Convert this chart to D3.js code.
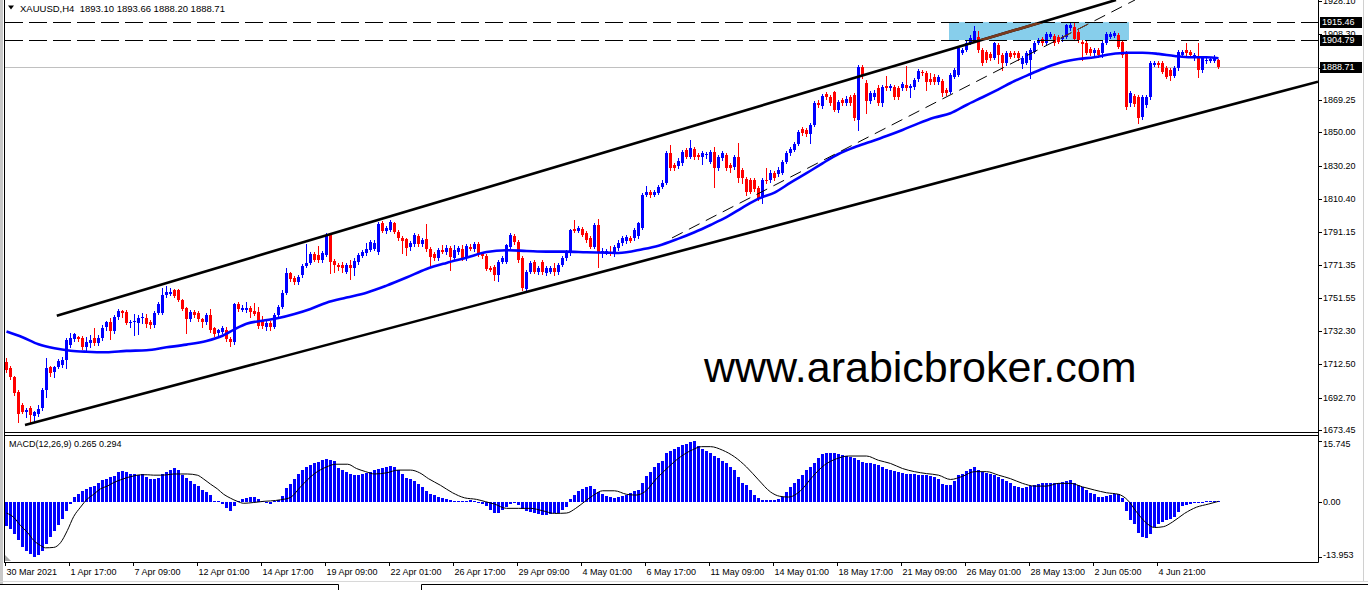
<!DOCTYPE html>
<html><head><meta charset="utf-8">
<script src="https://cdn.jsdelivr.net/npm/d3@7"></script>
<style>body{margin:0;background:#fff;}svg{display:block;}text{font-family:"Liberation Sans",Arial,sans-serif;}</style>
</head><body>
<svg id="c" width="1368" height="596"></svg>
<script>
const opens=[
1713.8,1710.3,1704.9,1696.0,1688.3,1684.2,1686.5,1681.8,1683.0,1686.5,
1697.2,1710.9,1707.9,1710.9,1712.0,1715.0,1723.9,1727.5,1728.7,1728.1,
1722.7,1725.1,1728.1,1725.1,1728.1,1734.6,1737.6,1732.2,1740.5,1744.1,
1743.5,1737.0,1737.6,1737.0,1739.9,1739.9,1737.6,1735.8,1742.9,1742.9,
1753.6,1754.2,1756.5,1756.5,1750.6,1745.9,1739.3,1743.5,1742.9,1739.3,
1737.6,1741.7,1734.0,1731.0,1731.6,1732.8,1727.5,1725.7,1748.2,1744.7,
1744.7,1745.9,1744.1,1743.5,1738.2,1734.6,1737.0,1734.6,1741.7,1746.5,
1754.8,1766.6,1763.7,1761.3,1765.4,1770.8,1772.6,1777.9,1777.3,1774.3,
1777.3,1789.2,1773.8,1771.4,1771.4,1767.2,1771.4,1769.6,1773.2,1776.7,
1778.5,1780.3,1780.9,1779.1,1796.3,1791.5,1792.1,1796.3,1790.9,1787.4,
1786.8,1782.0,1783.8,1788.6,1783.8,1786.8,1780.9,1777.9,1775.5,1780.3,
1779.1,1781.5,1775.5,1779.1,1780.9,1775.5,1782.0,1780.9,1783.8,1777.9,
1776.7,1769.6,1770.2,1765.4,1773.2,1773.2,1782.0,1788.6,1785.0,1775.5,
1757.1,1767.2,1773.2,1767.2,1773.2,1766.6,1767.2,1769.6,1767.2,1771.4,
1775.5,1778.5,1792.7,1791.5,1792.7,1790.4,1787.4,1782.0,1795.1,1778.5,
1779.3,1779.1,1777.9,1781.5,1784.4,1785.6,1787.4,1787.4,1788.6,1793.3,
1812.9,1814.7,1812.9,1814.1,1817.6,1820.0,1837.8,1830.7,1830.1,1831.9,
1839.6,1835.5,1840.2,1836.7,1835.5,1836.7,1832.5,1838.4,1828.9,1834.9,
1836.7,1830.7,1829.5,1835.5,1827.7,1822.4,1821.8,1821.8,1817.0,1811.1,
1821.8,1821.8,1826.0,1825.4,1826.0,1832.5,1837.8,1839.6,1843.2,1852.1,
1851.5,1849.1,1854.4,1867.5,1865.7,1872.8,1871.0,1874.0,1863.3,1869.3,
1867.5,1871.0,1872.2,1857.4,1888.8,1879.4,1868.7,1871.0,1876.4,1867.5,
1877.6,1876.4,1877.0,1876.4,1876.4,1878.2,1876.4,1877.0,1881.7,1885.9,
1885.3,1881.7,1882.9,1880.0,1880.5,1875.2,1874.0,1882.9,1884.1,1897.2,
1898.9,1903.1,1904.9,1906.6,1898.9,1897.7,1896.6,1894.2,1901.9,1896.0,
1891.2,1897.2,1897.2,1897.2,1890.6,1891.2,1893.0,1897.7,1903.1,1905.5,
1903.1,1906.6,1907.2,1906.6,1905.5,1906.6,1912.0,1912.6,1909.6,1903.7,
1903.1,1899.5,1897.2,1898.9,1897.2,1903.1,1906.6,1907.2,1907.8,1903.7,
1897.2,1867.5,1871.6,1871.0,1859.2,1866.3,1871.0,1890.0,1891.2,1891.2,
1888.3,1887.1,1883.5,1888.3,1896.0,1898.9,1897.7,1894.2,1894.8,1887.1,
1892.4,1892.4,1892.4,1893.10];
const highs=[
1716.2,1711.5,1705.5,1697.2,1689.5,1686.5,1687.7,1684.8,1688.3,1698.4,
1716.2,1711.5,1711.5,1715.6,1716.8,1728.1,1731.0,1731.0,1729.3,1729.3,
1728.7,1729.8,1734.0,1729.8,1735.8,1738.2,1739.9,1741.7,1745.3,1744.7,
1744.7,1738.7,1742.3,1741.7,1742.9,1742.3,1738.7,1744.1,1749.4,1757.7,
1758.9,1757.7,1757.1,1757.1,1751.2,1746.5,1744.7,1744.7,1744.1,1739.9,
1742.9,1745.3,1734.6,1733.4,1735.2,1734.6,1728.7,1748.8,1749.4,1747.6,
1749.4,1747.0,1748.8,1746.5,1741.1,1738.7,1738.2,1742.9,1747.6,1756.5,
1769.6,1767.2,1764.9,1765.4,1772.0,1783.8,1779.1,1779.1,1782.6,1779.7,
1790.4,1790.4,1774.9,1772.6,1773.2,1772.6,1774.3,1775.5,1778.5,1780.3,
1784.4,1786.2,1786.2,1796.9,1797.5,1794.5,1798.1,1796.9,1792.1,1788.6,
1787.4,1785.6,1790.4,1789.8,1787.4,1795.7,1782.0,1779.1,1781.5,1783.2,
1783.2,1782.6,1783.2,1782.6,1783.2,1783.8,1783.8,1785.0,1785.0,1779.1,
1777.9,1770.8,1771.4,1774.3,1776.7,1783.8,1790.4,1789.8,1786.2,1776.7,
1768.4,1773.8,1774.3,1770.8,1774.3,1770.8,1770.8,1772.6,1772.6,1776.7,
1780.3,1792.7,1798.1,1794.5,1793.9,1791.5,1788.6,1796.3,1798.7,1781.5,
1780.9,1782.6,1783.2,1786.2,1788.6,1789.2,1788.6,1793.3,1796.9,1814.1,
1818.2,1815.9,1815.9,1818.8,1821.8,1839.0,1842.6,1831.9,1834.9,1839.6,
1840.8,1845.5,1841.4,1837.8,1839.0,1838.4,1839.6,1841.4,1836.7,1839.0,
1837.8,1831.9,1836.7,1843.7,1828.9,1823.6,1823.0,1823.0,1818.2,1823.0,
1828.9,1827.7,1827.2,1829.5,1833.7,1839.0,1841.4,1844.4,1851.5,1853.3,
1852.7,1855.6,1868.7,1869.3,1872.8,1874.0,1872.2,1874.6,1869.3,1870.5,
1871.6,1872.2,1873.4,1890.0,1890.0,1881.1,1874.6,1875.2,1878.2,1878.2,
1883.5,1878.8,1878.2,1877.6,1880.0,1889.4,1878.8,1882.3,1887.7,1887.1,
1886.5,1885.3,1884.7,1884.1,1881.7,1876.4,1885.3,1888.3,1901.3,1900.1,
1904.3,1907.8,1913.2,1910.2,1900.1,1898.9,1897.7,1903.7,1903.1,1897.2,
1898.3,1898.3,1898.3,1898.3,1895.4,1898.3,1900.1,1904.3,1906.1,1906.6,
1909.6,1909.6,1908.4,1907.8,1907.8,1914.4,1915.0,1915.5,1910.8,1904.9,
1904.3,1900.7,1900.1,1900.1,1904.3,1909.6,1909.6,1910.2,1909.0,1904.9,
1898.3,1874.6,1872.8,1872.2,1872.2,1872.2,1892.4,1892.4,1892.4,1892.4,
1889.4,1888.3,1889.4,1898.9,1898.9,1903.1,1898.9,1897.2,1903.1,1895.4,
1894.2,1894.8,1896.0,1893.66];
const lows=[
1707.9,1703.7,1694.2,1678.2,1683.6,1681.2,1678.2,1678.2,1681.8,1685.3,
1693.1,1705.5,1704.9,1710.3,1710.9,1710.3,1722.7,1726.3,1726.3,1721.5,
1720.9,1722.7,1723.9,1723.9,1726.9,1732.8,1727.5,1731.0,1739.3,1740.5,
1736.4,1734.6,1729.8,1730.4,1737.0,1734.6,1734.0,1734.6,1742.3,1742.3,
1752.4,1753.6,1752.4,1750.0,1744.7,1731.0,1738.2,1740.5,1738.2,1734.6,
1736.4,1731.6,1729.3,1729.3,1731.0,1726.3,1723.3,1724.5,1744.1,1744.1,
1743.5,1740.5,1741.7,1734.0,1734.0,1732.8,1732.8,1734.0,1741.1,1745.9,
1754.2,1761.9,1760.1,1760.1,1764.3,1770.2,1772.0,1773.8,1773.2,1773.2,
1776.7,1766.6,1767.2,1768.4,1767.2,1766.6,1763.1,1765.4,1772.0,1776.1,
1777.3,1779.7,1780.3,1777.9,1790.9,1790.4,1791.5,1790.4,1786.2,1778.5,
1777.3,1780.3,1782.6,1782.6,1782.6,1779.7,1770.2,1774.3,1774.3,1778.5,
1777.9,1768.4,1774.3,1777.9,1774.3,1774.3,1780.3,1779.7,1776.7,1775.5,
1768.4,1767.8,1762.5,1761.9,1772.6,1772.6,1781.5,1783.8,1773.2,1756.5,
1756.0,1766.6,1766.6,1766.0,1766.0,1765.4,1766.6,1765.4,1766.0,1770.8,
1774.3,1777.3,1790.9,1790.9,1788.6,1785.0,1781.5,1781.5,1770.2,1776.1,
1777.9,1777.3,1776.7,1780.3,1783.2,1784.4,1785.0,1786.2,1787.4,1792.7,
1812.3,1811.7,1812.3,1813.5,1817.0,1819.4,1827.7,1827.7,1828.9,1830.7,
1834.9,1834.9,1834.3,1834.3,1831.3,1834.9,1831.9,1817.6,1827.7,1833.7,
1827.7,1826.6,1828.3,1820.6,1820.0,1812.9,1814.1,1815.3,1809.9,1808.2,
1820.0,1820.6,1821.8,1824.2,1825.4,1831.9,1836.7,1839.0,1842.6,1848.5,
1847.9,1843.7,1853.8,1865.1,1864.5,1869.9,1866.3,1862.7,1862.2,1866.3,
1866.3,1866.3,1857.4,1851.5,1882.3,1861.6,1867.5,1869.9,1866.3,1865.7,
1875.2,1875.2,1869.9,1869.9,1875.2,1875.2,1871.0,1875.8,1880.5,1884.1,
1875.2,1878.8,1878.8,1878.8,1871.6,1872.2,1873.4,1882.3,1883.5,1896.6,
1898.3,1902.5,1904.3,1897.7,1890.0,1891.8,1893.0,1893.6,1891.2,1887.1,
1890.0,1894.2,1894.8,1893.0,1888.3,1890.6,1882.3,1897.2,1902.5,1901.9,
1902.5,1906.1,1901.9,1903.1,1904.3,1906.1,1910.8,1904.9,1903.7,1893.0,
1896.6,1896.0,1896.0,1894.8,1894.8,1902.5,1906.1,1906.6,1900.1,1894.8,
1863.9,1865.7,1865.7,1855.6,1858.0,1865.1,1869.9,1889.4,1888.8,1885.3,
1882.3,1881.1,1882.9,1887.1,1895.4,1896.0,1895.4,1893.0,1882.9,1885.9,
1891.2,1891.8,1891.8,1888.20];
const closes=[
1709.1,1704.9,1695.4,1683.0,1684.2,1685.3,1682.4,1684.2,1685.9,1697.2,
1710.3,1707.3,1710.9,1714.4,1715.0,1726.9,1728.1,1730.4,1727.5,1722.7,
1725.7,1726.9,1725.1,1728.1,1734.0,1737.6,1732.2,1740.5,1744.1,1742.9,
1737.0,1737.6,1738.2,1739.9,1740.5,1736.4,1735.8,1742.9,1748.2,1753.6,
1755.4,1755.4,1753.0,1750.6,1745.3,1739.3,1743.5,1741.7,1739.3,1737.6,
1741.7,1732.8,1730.4,1732.8,1734.0,1727.5,1725.7,1748.2,1745.3,1745.9,
1745.9,1743.5,1742.3,1735.2,1735.2,1737.0,1734.6,1741.7,1746.5,1754.8,
1766.6,1763.1,1761.3,1764.3,1770.8,1772.6,1777.9,1774.3,1774.3,1778.5,
1789.2,1773.2,1771.4,1770.2,1769.6,1771.4,1769.6,1773.8,1777.3,1779.1,
1780.9,1785.0,1784.4,1795.7,1791.5,1793.3,1796.9,1790.9,1787.4,1785.6,
1781.5,1784.4,1789.2,1783.8,1786.2,1780.9,1776.1,1775.5,1780.3,1779.1,
1781.5,1776.1,1780.3,1781.5,1775.5,1782.6,1780.9,1783.8,1777.9,1776.7,
1769.0,1768.4,1765.4,1773.2,1775.5,1783.2,1789.2,1785.0,1774.3,1757.7,
1767.2,1772.6,1767.2,1769.6,1767.2,1769.6,1769.6,1767.2,1771.4,1775.5,
1779.1,1792.1,1791.5,1793.3,1789.2,1786.2,1782.0,1795.1,1779.1,1779.7,
1779.6,1778.5,1782.0,1784.4,1787.4,1788.0,1785.6,1792.1,1796.3,1812.9,
1814.7,1812.9,1814.7,1817.6,1820.0,1837.8,1828.9,1828.9,1833.1,1838.4,
1835.5,1840.8,1835.5,1835.5,1837.8,1837.2,1838.4,1828.9,1835.5,1837.8,
1828.9,1828.9,1835.5,1823.0,1823.0,1814.7,1814.7,1816.5,1811.1,1821.8,
1821.2,1826.0,1823.0,1827.7,1832.5,1837.8,1840.2,1843.2,1850.3,1849.7,
1849.1,1854.4,1867.5,1866.3,1871.6,1871.0,1867.5,1863.3,1868.1,1867.5,
1869.9,1867.5,1858.6,1888.8,1883.5,1868.7,1873.4,1873.4,1867.5,1877.0,
1876.4,1877.6,1871.0,1871.0,1878.8,1876.4,1877.6,1881.1,1886.5,1885.3,
1880.0,1880.0,1880.0,1882.9,1873.4,1873.4,1884.1,1887.1,1900.1,1898.9,
1903.1,1906.1,1910.2,1898.9,1891.2,1893.0,1894.2,1903.1,1896.0,1891.2,
1897.2,1894.8,1896.0,1894.2,1894.2,1897.2,1898.9,1903.1,1904.9,1903.1,
1908.4,1908.4,1903.1,1903.7,1906.6,1913.8,1913.8,1905.5,1904.9,1902.5,
1897.2,1897.2,1898.9,1896.0,1903.1,1908.4,1908.4,1909.0,1900.7,1896.0,
1865.1,1873.4,1866.9,1858.6,1871.0,1871.0,1891.2,1891.2,1890.0,1885.9,
1882.9,1883.5,1888.3,1897.7,1897.7,1897.2,1896.0,1896.0,1887.1,1894.2,
1893.0,1893.6,1894.2,1888.71];

const maBars=[0,4,8,12,16,20,25,30,35,40,45,50,54,57,60,64,68,72,76,80,85,90,95,100,105,110,115,120,125,130,135,140,145,150,153,159,163,168,172,176,180,184,188,192,196,200,204,208,212,216,220,224,228,232,236,240,244,248,252,256,260,264,268,272,276,280,284,288,292,296,300,303];
const maValues=[1731.9,1728.5,1724.3,1721.9,1720.5,1719.9,1719.6,1720.4,1720.8,1722.5,1724.1,1726.3,1729.4,1733.2,1736.5,1738.3,1739.9,1742.3,1745.3,1749.0,1752.0,1754.9,1759.1,1763.9,1769.0,1772.6,1775.7,1779.1,1780.1,1779.7,1779.3,1779.3,1778.9,1778.7,1778.5,1780.7,1782.8,1787.0,1790.8,1795.1,1799.7,1805.4,1810.7,1814.3,1820.2,1825.8,1831.7,1837.2,1841.2,1844.5,1847.9,1851.5,1855.4,1858.8,1861.4,1866.3,1870.9,1875.6,1880.5,1884.7,1888.7,1891.8,1893.6,1894.6,1896.4,1897.3,1897.3,1896.6,1895.4,1894.6,1894.6,1894.0];

const macdHist=[
-5.9,-6.7,-8.1,-9.7,-11.4,-12.5,-13.3,-13.95,-13.5,-12.3,
-10.6,-8.9,-7.2,-5.7,-4.2,-2.2,-0.5,1.3,2.2,2.9,
3.5,3.9,4.1,5.0,5.7,6.0,6.5,6.9,7.7,8.0,
7.7,7.4,7.2,7.1,7.2,6.5,6.0,6.1,6.4,7.2,
7.8,8.4,8.8,8.2,7.1,6.3,5.5,4.8,4.1,3.3,
2.6,1.8,0.5,0.3,-0.5,-1.3,-2.2,-0.9,0.5,0.9,
1.1,1.3,1.4,0.8,0.4,-0.2,-0.3,0.3,0.6,1.7,
3.6,4.7,6.0,7.2,8.3,9.1,9.7,10.2,10.4,10.8,
11.2,10.8,10.5,8.9,8.4,7.9,7.4,7.1,7.0,7.3,
7.5,7.8,8.3,8.6,8.9,9.1,9.3,9.0,8.4,7.2,
6.4,6.1,5.6,4.8,4.0,2.9,2.3,1.9,1.4,1.2,
0.9,0.7,0.5,0.4,0.4,0.5,0.6,0.5,0.2,-0.3,
-1.0,-2.0,-2.7,-2.7,-2.0,-1.2,-0.5,0.2,-0.7,-1.6,
-2.2,-2.4,-2.7,-3.0,-3.3,-3.1,-3.0,-2.8,-2.6,-2.0,
-1.2,0.8,2.0,3.0,3.5,4.0,4.3,3.4,2.6,2.3,
1.7,1.4,1.2,1.3,1.6,1.9,2.4,2.9,3.2,5.0,
6.8,7.9,9.0,10.0,10.7,12.6,13.3,13.8,14.3,14.8,
15.1,15.5,15.7,14.4,13.8,13.2,12.8,12.0,11.3,10.7,
10.0,9.2,8.3,6.5,5.0,4.4,3.1,2.0,1.1,0.7,
0.6,0.6,0.7,0.9,1.4,2.8,4.0,4.9,6.0,7.1,
8.3,9.2,10.2,11.5,12.3,12.8,12.8,12.6,12.3,12.1,
11.8,11.6,11.5,10.8,10.3,10.2,10.0,9.8,9.6,9.1,
8.7,8.4,8.0,7.8,7.6,7.4,7.3,7.3,7.1,7.0,
7.0,6.8,6.6,6.1,4.8,4.4,4.4,5.6,7.0,7.4,
8.1,8.6,9.1,8.4,7.9,7.6,7.3,7.1,6.6,6.0,
5.6,4.9,4.3,4.0,3.6,3.9,4.2,4.4,4.8,4.9,
5.0,5.0,5.0,5.0,5.2,5.6,5.8,5.0,4.4,4.0,
3.1,2.5,2.1,1.5,1.4,1.6,2.0,2.1,2.1,1.2,
-2.2,-4.6,-5.6,-7.9,-8.8,-9.2,-8.0,-6.2,-5.5,-5.0,
-4.5,-4.2,-3.6,-2.4,-1.0,-0.6,-0.3,0.1,0.2,0.2,
0.3,0.4,0.3,0.265];
const signalBars=[0,1.8,3.5,5.2,6.8,8.5,9.75,11.8,13.5,15.2,16.8,18.5,20.2,21.8,23.5,25.2,26.8,28.5,30.2,31.8,33.5,35.2,36.8,38.5,40.2,41.8,43.5,45.2,47.7,49.3,51,52.7,54.3,56,57.7,59.3,61.8,64.3,66,68.5,71,73.5,77,80,82.3,85.3,87.5,89.8,92,95,98,101,103.3,105.5,108.5,111.5,114.5,117.5,119.8,122,125,128,131,134,137,140,142.3,144.5,146.8,149,152,155,157.3,159.5,162.5,165.5,168.5,171.5,173.8,176,179,182,185,188,191,193.3,195.5,198.5,201.5,204.5,207.5,210.5,215,218,221,224,227,230,233,236,239,242,245,248,251,254,257,260,263,266,269,272,275,278,280.3,282.5,284.7,287,289.2,291.5,294.5,297.5,300.5,303];
const signalValues=[-2.7,-3.8,-5.9,-7.6,-9.7,-11.0,-11.6,-11.5,-10.3,-7.2,-3.6,-1.2,0.9,2.1,3.5,4.2,5.1,5.8,6.4,6.8,7.1,7.1,7.0,7.0,7.1,7.3,7.3,7.3,7.0,6.0,4.7,3.5,2.1,1.1,0.3,-0.2,0.0,0.3,0.4,0.7,1.3,4.0,7.4,9.1,9.8,9.8,8.7,7.9,7.3,7.6,8.3,8.3,7.6,6.1,4.4,2.5,1.2,0.8,0.2,-0.4,-1.5,-1.5,-1.5,-2.1,-2.8,-2.7,-1.5,0.2,1.9,3.0,3.0,2.1,1.9,2.7,6.1,9.1,11.7,13.5,14.3,14.3,13.4,11.7,9.1,5.8,2.7,1.6,1.4,3.0,6.6,9.6,11.2,11.9,11.9,10.8,10.0,8.7,7.9,7.4,7.0,5.9,6.7,7.9,7.9,7.0,6.1,4.9,4.2,4.2,4.9,4.9,4.0,3.2,2.5,2.1,0.6,-2.4,-5.0,-6.4,-6.2,-5.0,-2.8,-1.2,-0.4,0.294];

const timeLabels=["30 Mar 2021","1 Apr 17:00","7 Apr 09:00","12 Apr 01:00","14 Apr 17:00","19 Apr 09:00","22 Apr 01:00","26 Apr 17:00","29 Apr 09:00","4 May 01:00","6 May 17:00","11 May 09:00","14 May 01:00","18 May 17:00","21 May 09:00","26 May 01:00","28 May 13:00","2 Jun 05:00","4 Jun 21:00"];
const timeLabelBars=[0,16,32,48,64,80,96,112,128,144,160,176,192,208,224,240,256,272,288];
const priceTicks=[1928.10,1908.30,1888.50,1869.25,1850.00,1830.20,1810.40,1791.15,1771.35,1751.55,1732.30,1712.50,1692.70,1673.45];
const levelPrices=[1915.46,1904.79];
const lastPrice=1888.71;
const macdTicks=[15.745,0,-13.953];
const macdTickLabels=["15.745","0.00","-13.953"];
const upperChannel=[[12.7,1741.3],[277.5,1928.6]];
const lowerChannel=[[4.75,1676.4],[328,1880.1]];
const innerTrend=[[166.5,1787.4],[282.25,1928.6]];
const zoneBars=[235.75,280.75];
const zonePrices=[1904.79,1915.46];
const headerText="XAUUSD,H4  1893.10 1893.66 1888.20 1888.71";
const macdTitle="MACD(12,26,9) 0.265 0.294";
const watermark="www.arabicbroker.com";

const svg=d3.select("#c");
const x=d3.scaleLinear().domain([0,328]).range([6,1318]);
const y=d3.scaleLinear().domain([1673.45,1869.25]).range([430,100]);
const ym=d3.scaleLinear().domain([-13.953,15.745]).range([557,441]);
const BLUE="#0000ff",RED="#ff0000";

const defs=svg.append("defs");
defs.append("clipPath").attr("id","pp").append("rect").attr("x",5).attr("y",0).attr("width",1313).attr("height",432);
defs.append("clipPath").attr("id","mp").append("rect").attr("x",5).attr("y",436).attr("width",1313).attr("height",126);
defs.append("clipPath").attr("id","zone").append("rect")
  .attr("x",x(zoneBars[0])).attr("y",y(zonePrices[1])).attr("width",x(zoneBars[1])-x(zoneBars[0])).attr("height",y(zonePrices[0])-y(zonePrices[1]));

// window frame
svg.append("rect").attr("x",0).attr("y",0).attr("width",3).attr("height",584).attr("fill","#c8c8c8");
svg.append("line").attr("x1",1363.5).attr("x2",1363.5).attr("y1",0).attr("y2",582).attr("stroke","#d0d0d0");
svg.append("line").attr("x1",0).attr("x2",1368).attr("y1",581.5).attr("y2",581.5).attr("stroke","#d8d8d8");
svg.append("path").attr("d","M0,584.5H338.5V590M421.5,590V584.5H1368").attr("fill","none").attr("stroke","#000");

const pp=svg.append("g").attr("clip-path","url(#pp)");
pp.append("line").attr("x1",5).attr("x2",1318).attr("y1",Math.round(y(lastPrice))+0.5).attr("y2",Math.round(y(lastPrice))+0.5).attr("stroke","#c0c0c0");
pp.append("rect").attr("x",x(zoneBars[0])).attr("y",y(zonePrices[1])).attr("width",x(zoneBars[1])-x(zoneBars[0])).attr("height",y(zonePrices[0])-y(zonePrices[1])).attr("fill","#87ceeb");

// candles
const cg=pp.append("g");
closes.forEach((c,i)=>{
  const o=opens[i],h=highs[i],l=lows[i];
  const col=c>=o?BLUE:RED;
  const cx=x(i);
  cg.append("line").attr("x1",cx+0.5).attr("x2",cx+0.5).attr("y1",Math.round(y(h))).attr("y2",Math.round(y(l))+1).attr("stroke",col);
  const t=Math.round(y(Math.max(o,c))),b=Math.round(y(Math.min(o,c)));
  cg.append("rect").attr("x",cx-1).attr("y",t).attr("width",3).attr("height",Math.max(1,b-t)).attr("fill",col);
});

// moving average
pp.append("path").datum(maBars.map((b,k)=>[b,maValues[k]]))
  .attr("d",d3.line().x(d=>x(d[0])+0.5).y(d=>y(d[1])).curve(d3.curveMonotoneX))
  .attr("fill","none").attr("stroke",BLUE).attr("stroke-width",2.6);

// trend lines
const seg=(g,pts,col,w,dash)=>{const p=g.append("line").attr("x1",x(pts[0][0])).attr("y1",y(pts[0][1])).attr("x2",x(pts[1][0])).attr("y2",y(pts[1][1])).attr("stroke",col).attr("stroke-width",w);if(dash)p.attr("stroke-dasharray",dash);return p;};
seg(pp,upperChannel,"#000",2.6);
seg(pp,lowerChannel,"#000",2.6);
seg(pp,innerTrend,"#000",1,"12,7");
const zg=pp.append("g").attr("clip-path","url(#zone)");
seg(zg,upperChannel,"#7a3a1c",2.6);
seg(zg,innerTrend,"#7a3a1c",1,"12,7");
levelPrices.forEach(p=>{
  const yy=Math.round(y(p))+0.5;
  pp.append("line").attr("x1",5).attr("x2",1318).attr("y1",yy).attr("y2",yy).attr("stroke","#000").attr("stroke-dasharray","18,6");
});

// watermark
svg.append("text").attr("x",704).attr("y",382).attr("font-size",43).attr("fill","#000").text(watermark);

// header
svg.append("path").attr("d","M8,5.5H14L11,9.5Z").attr("fill","#000");
svg.append("text").attr("x",20).attr("y",11.5).attr("font-size",9.5).attr("fill","#000").style("white-space","pre").text(headerText);

// pane borders
svg.append("line").attr("x1",4.5).attr("x2",4.5).attr("y1",0).attr("y2",562.5).attr("stroke","#000");
svg.append("line").attr("x1",4).attr("x2",1318.5).attr("y1",432.5).attr("y2",432.5).attr("stroke","#000");
svg.append("line").attr("x1",4).attr("x2",1318.5).attr("y1",435.5).attr("y2",435.5).attr("stroke","#000");
svg.append("line").attr("x1",4).attr("x2",1318.5).attr("y1",562.5).attr("y2",562.5).attr("stroke","#000");
svg.append("line").attr("x1",1318.5).attr("x2",1318.5).attr("y1",0).attr("y2",562.5).attr("stroke","#000");

// price axis
const ax=svg.append("g");
priceTicks.forEach(p=>{
  const yy=Math.round(y(p))+0.5;
  ax.append("line").attr("x1",1318).attr("x2",1322).attr("y1",yy).attr("y2",yy).attr("stroke","#000");
  ax.append("text").attr("x",1323).attr("y",yy).attr("dy","0.33em").attr("font-size",9).attr("fill","#000").text(p.toFixed(2));
});
levelPrices.concat([lastPrice]).forEach(p=>{
  const yy=Math.round(y(p))+0.5;
  ax.append("rect").attr("x",1320).attr("y",yy-5.5).attr("width",42).attr("height",11).attr("fill","#000");
  ax.append("text").attr("x",1322).attr("y",yy).attr("dy","0.33em").attr("font-size",9).attr("fill","#fff").text(p.toFixed(2));
});

// MACD pane
const mp=svg.append("g").attr("clip-path","url(#mp)");
macdHist.forEach((v,i)=>{
  const a=Math.round(ym(0)),b=Math.round(ym(v));
  mp.append("rect").attr("x",x(i)-1).attr("y",Math.min(a,b)).attr("width",3).attr("height",Math.max(1,Math.abs(a-b))).attr("fill",BLUE);
});
mp.append("path").datum(signalBars.map((b,k)=>[b,signalValues[k]]))
  .attr("d",d3.line().x(d=>x(d[0])+0.5).y(d=>ym(d[1])).curve(d3.curveMonotoneX))
  .attr("fill","none").attr("stroke","#000").attr("stroke-width",1);
svg.append("path").attr("d","M5,561L5,555L11,561Z").attr("fill","#a8a8a8");
svg.append("text").attr("x",9).attr("y",447).attr("font-size",9).attr("fill","#000").text(macdTitle);
macdTicks.forEach((v,k)=>{
  const yy=Math.round(ym(v))+0.5;
  ax.append("line").attr("x1",1318).attr("x2",1322).attr("y1",yy).attr("y2",yy).attr("stroke","#000");
  const dy=k===0?"0.65em":(k===2?"0em":"0.33em");
  ax.append("text").attr("x",1323).attr("y",yy).attr("dy",dy).attr("font-size",9).attr("fill","#000").text(macdTickLabels[k]);
});

// time axis
timeLabelBars.forEach((b,k)=>{
  const xx=Math.round(x(b))-0.5;
  svg.append("line").attr("x1",xx).attr("x2",xx).attr("y1",562).attr("y2",566).attr("stroke","#000");
  svg.append("text").attr("x",xx+1).attr("y",575).attr("font-size",9).attr("fill","#000").text(timeLabels[k]);
});
</script>
</body></html>
